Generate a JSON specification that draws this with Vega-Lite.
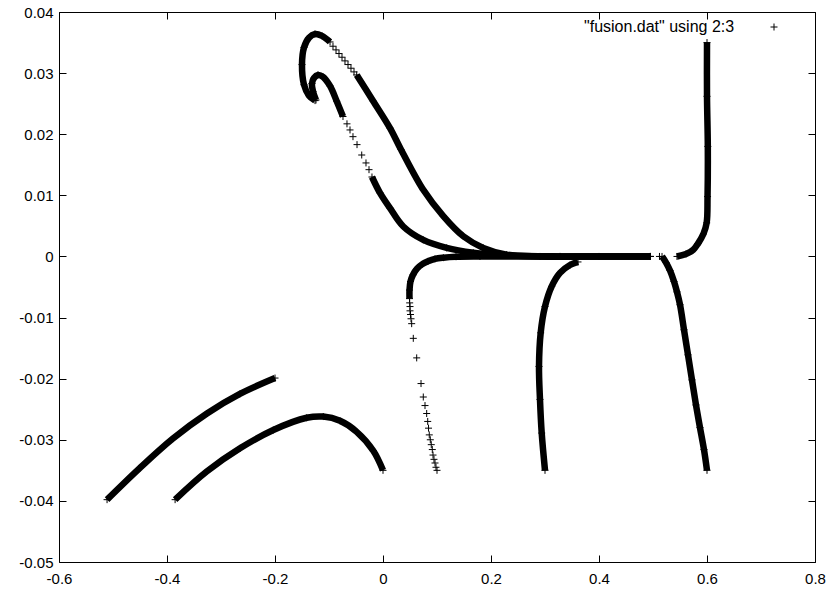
{
  "$schema": "https://vega.github.io/schema/vega-lite/v6.json",
  "width": 756,
  "height": 550,
  "autosize": "none",
  "padding": {"left": 59, "top": 12, "right": 16, "bottom": 28},
  "background": "white",
  "config": {
    "view": {"stroke": "black", "strokeWidth": 1},
    "axis": {
      "labelFont": "Liberation Sans",
      "labelFontSize": 15,
      "labelColor": "black",
      "tickColor": "black",
      "tickSize": -7,
      "tickWidth": 1,
      "domain": false,
      "grid": false,
      "title": null,
      "labelFlush": false,
      "labelOverlap": false,
      "labelBound": false
    }
  },
  "data": {
    "values": [
      {"t": "a", "x": -0.511, "y": -0.0398},
      {"t": "a", "x": -0.45, "y": -0.0346},
      {"t": "a", "x": -0.389, "y": -0.0298},
      {"t": "a", "x": -0.326, "y": -0.0257},
      {"t": "a", "x": -0.265, "y": -0.0225},
      {"t": "a", "x": -0.2, "y": -0.0199},

      {"t": "b", "x": -0.385, "y": -0.0398},
      {"t": "b", "x": -0.3265, "y": -0.0352},
      {"t": "b", "x": -0.2648, "y": -0.0314},
      {"t": "b", "x": -0.2031, "y": -0.0284},
      {"t": "b", "x": -0.1413, "y": -0.0264},
      {"t": "b", "x": -0.1106, "y": -0.0262},
      {"t": "b", "x": -0.0796, "y": -0.0269},
      {"t": "b", "x": -0.0487, "y": -0.0287},
      {"t": "b", "x": -0.018, "y": -0.0318},
      {"t": "b", "x": 0.0, "y": -0.035},

      {"t": "c1", "x": -0.1259, "y": 0.0255},
      {"t": "c1", "x": -0.137, "y": 0.0263},
      {"t": "c1", "x": -0.1463, "y": 0.0281},
      {"t": "c1", "x": -0.15, "y": 0.0314},
      {"t": "c1", "x": -0.1463, "y": 0.0342},
      {"t": "c1", "x": -0.137, "y": 0.0358},
      {"t": "c1", "x": -0.1259, "y": 0.0364},
      {"t": "c1", "x": -0.113, "y": 0.0361},
      {"t": "c1", "x": -0.0981, "y": 0.0351},
      {"t": "c2", "x": -0.0926, "y": 0.0344},
      {"t": "c2", "x": -0.087, "y": 0.0338},
      {"t": "c2", "x": -0.0815, "y": 0.0332},
      {"t": "c2", "x": -0.0759, "y": 0.0326},
      {"t": "c2", "x": -0.0704, "y": 0.032},
      {"t": "c2", "x": -0.0648, "y": 0.0314},
      {"t": "c2", "x": -0.0593, "y": 0.0308},
      {"t": "c2", "x": -0.0537, "y": 0.0302},
      {"t": "c3", "x": -0.0487, "y": 0.0297},
      {"t": "c3", "x": -0.018, "y": 0.0254},
      {"t": "c3", "x": 0.013, "y": 0.021},
      {"t": "c3", "x": 0.0333, "y": 0.0175},
      {"t": "c3", "x": 0.0746, "y": 0.0109},
      {"t": "c3", "x": 0.1117, "y": 0.0066},
      {"t": "c3", "x": 0.1487, "y": 0.0033},
      {"t": "c3", "x": 0.1857, "y": 0.0014},
      {"t": "c3", "x": 0.229, "y": 0.0003},
      {"t": "c3", "x": 0.2907, "y": 0.0},
      {"t": "c3", "x": 0.4, "y": 0.0},
      {"t": "c3", "x": 0.495, "y": 0.0},

      {"t": "d1", "x": -0.1241, "y": 0.0256},
      {"t": "d1", "x": -0.1296, "y": 0.027},
      {"t": "d1", "x": -0.1315, "y": 0.0283},
      {"t": "d1", "x": -0.1278, "y": 0.0292},
      {"t": "d1", "x": -0.1204, "y": 0.0297},
      {"t": "d1", "x": -0.1111, "y": 0.0294},
      {"t": "d1", "x": -0.0981, "y": 0.0279},
      {"t": "d1", "x": -0.0857, "y": 0.0254},
      {"t": "d1", "x": -0.0741, "y": 0.0229},
      {"t": "d2", "x": -0.0667, "y": 0.0217},
      {"t": "d2", "x": -0.0611, "y": 0.0207},
      {"t": "d2", "x": -0.0556, "y": 0.0196},
      {"t": "d2", "x": -0.0481, "y": 0.0183},
      {"t": "d2", "x": -0.0394, "y": 0.0166},
      {"t": "d2", "x": -0.0315, "y": 0.0153},
      {"t": "d2", "x": -0.0259, "y": 0.0142},
      {"t": "d3", "x": -0.0204, "y": 0.013},
      {"t": "d3", "x": -0.0056, "y": 0.0104},
      {"t": "d3", "x": 0.013, "y": 0.0079},
      {"t": "d3", "x": 0.0376, "y": 0.0049},
      {"t": "d3", "x": 0.0746, "y": 0.0027},
      {"t": "d3", "x": 0.1179, "y": 0.0014},
      {"t": "d3", "x": 0.1672, "y": 0.0006},
      {"t": "d3", "x": 0.2167, "y": 0.0002},
      {"t": "d3", "x": 0.3278, "y": 0.0},
      {"t": "d3", "x": 0.495, "y": 0.0},

      {"t": "e1", "x": 0.1, "y": -0.035},
      {"t": "e1", "x": 0.0981, "y": -0.0345},
      {"t": "e1", "x": 0.0963, "y": -0.0338},
      {"t": "e1", "x": 0.0944, "y": -0.0332},
      {"t": "e1", "x": 0.0926, "y": -0.0325},
      {"t": "e1", "x": 0.0913, "y": -0.0316},
      {"t": "e1", "x": 0.0894, "y": -0.0308},
      {"t": "e1", "x": 0.0876, "y": -0.03},
      {"t": "e1", "x": 0.0857, "y": -0.0292},
      {"t": "e1", "x": 0.0843, "y": -0.0281},
      {"t": "e1", "x": 0.0828, "y": -0.027},
      {"t": "e1", "x": 0.0809, "y": -0.0257},
      {"t": "e1", "x": 0.0778, "y": -0.0244},
      {"t": "e1", "x": 0.0746, "y": -0.023},
      {"t": "e1", "x": 0.0704, "y": -0.0208},
      {"t": "e1", "x": 0.0624, "y": -0.0166},
      {"t": "e1", "x": 0.0561, "y": -0.0134},
      {"t": "e1", "x": 0.0531, "y": -0.011},
      {"t": "e1", "x": 0.0519, "y": -0.0102},
      {"t": "e1", "x": 0.0509, "y": -0.0095},
      {"t": "e1", "x": 0.05, "y": -0.0089},
      {"t": "e1", "x": 0.05, "y": -0.0082},
      {"t": "e1", "x": 0.0494, "y": -0.0076},
      {"t": "e2", "x": 0.0491, "y": -0.0069},
      {"t": "e2", "x": 0.0491, "y": -0.0055},
      {"t": "e2", "x": 0.0509, "y": -0.0041},
      {"t": "e2", "x": 0.0556, "y": -0.003},
      {"t": "e2", "x": 0.063, "y": -0.002},
      {"t": "e2", "x": 0.0722, "y": -0.0013},
      {"t": "e2", "x": 0.0833, "y": -0.0008},
      {"t": "e2", "x": 0.0963, "y": -0.0004},
      {"t": "e2", "x": 0.1117, "y": -0.0002},
      {"t": "e2", "x": 0.1352, "y": -0.00005},
      {"t": "e2", "x": 0.1796, "y": 0.0},
      {"t": "e2", "x": 0.3278, "y": 0.0},
      {"t": "e2", "x": 0.495, "y": 0.0},

      {"t": "f", "x": 0.3, "y": -0.035},
      {"t": "f", "x": 0.2939, "y": -0.0289},
      {"t": "f", "x": 0.2907, "y": -0.0234},
      {"t": "f", "x": 0.2889, "y": -0.018},
      {"t": "f", "x": 0.292, "y": -0.0125},
      {"t": "f", "x": 0.3, "y": -0.0082},
      {"t": "f", "x": 0.3124, "y": -0.0049},
      {"t": "f", "x": 0.3278, "y": -0.0027},
      {"t": "f", "x": 0.3463, "y": -0.0014},
      {"t": "f", "x": 0.3611, "y": -0.0009},

      {"t": "g", "x": 0.5167, "y": 0.0},
      {"t": "g", "x": 0.5241, "y": -0.001},
      {"t": "g", "x": 0.5315, "y": -0.0023},
      {"t": "g", "x": 0.5389, "y": -0.0041},
      {"t": "g", "x": 0.5444, "y": -0.0058},
      {"t": "g", "x": 0.55, "y": -0.0079},
      {"t": "g", "x": 0.5574, "y": -0.012},
      {"t": "g", "x": 0.5648, "y": -0.0161},
      {"t": "g", "x": 0.5722, "y": -0.0202},
      {"t": "g", "x": 0.5796, "y": -0.0243},
      {"t": "g", "x": 0.587, "y": -0.028},
      {"t": "g", "x": 0.5944, "y": -0.0316},
      {"t": "g", "x": 0.6, "y": -0.035},

      {"t": "h", "x": 0.6, "y": 0.035},
      {"t": "h", "x": 0.6, "y": 0.0262},
      {"t": "h", "x": 0.6015, "y": 0.018},
      {"t": "h", "x": 0.601, "y": 0.0098},
      {"t": "h", "x": 0.5994, "y": 0.0055},
      {"t": "h", "x": 0.5935, "y": 0.0037},
      {"t": "h", "x": 0.5833, "y": 0.0021},
      {"t": "h", "x": 0.5746, "y": 0.0011},
      {"t": "h", "x": 0.5611, "y": 0.0004},
      {"t": "h", "x": 0.5444, "y": 0.0},

      {"t": "tail", "x": 0.512, "y": 0.0}
    ]
  },
  "layer": [
    {
      "transform": [{"filter": "indexof(['c2', 'd2', 'e1', 'tail'], datum.t) < 0"}],
      "mark": {"type": "line", "color": "black", "strokeWidth": 6.5, "strokeCap": "butt", "interpolate": "catmull-rom"},
      "encoding": {
        "x": {
          "field": "x", "type": "quantitative",
          "scale": {"domain": [-0.6, 0.8], "nice": false, "zero": false},
          "axis": {"orient": "bottom", "values": [-0.6, -0.4, -0.2, 0, 0.2, 0.4, 0.6, 0.8], "labelExpr": "'' + datum.value", "labelPadding": 16}
        },
        "y": {
          "field": "y", "type": "quantitative",
          "scale": {"domain": [-0.05, 0.04], "nice": false, "zero": false},
          "axis": {"orient": "left", "values": [-0.05, -0.04, -0.03, -0.02, -0.01, 0, 0.01, 0.02, 0.03, 0.04], "labelExpr": "'' + datum.value", "labelPadding": 13}
        },
        "detail": {"field": "t"},
        "order": {"value": null}
      }
    },
    {
      "mark": {"type": "point", "filled": false, "stroke": "black", "strokeWidth": 1, "size": 49, "opacity": 1},
      "encoding": {
        "x": {
          "field": "x", "type": "quantitative",
          "scale": {"domain": [-0.6, 0.8], "nice": false, "zero": false},
          "axis": {"orient": "top", "values": [-0.6, -0.4, -0.2, 0, 0.2, 0.4, 0.6, 0.8], "labels": false}
        },
        "y": {
          "field": "y", "type": "quantitative",
          "scale": {"domain": [-0.05, 0.04], "nice": false, "zero": false},
          "axis": {"orient": "right", "values": [-0.05, -0.04, -0.03, -0.02, -0.01, 0, 0.01, 0.02, 0.03, 0.04], "labels": false}
        },
        "shape": {
          "datum": "\"fusion.dat\" using 2:3",
          "scale": {"range": ["M-1,0H1M0,-1V1"]},
          "legend": {
            "orient": "none",
            "legendX": 525,
            "legendY": 10,
            "title": "\"fusion.dat\" using 2:3",
            "titleOrient": "left",
            "titleFont": "Liberation Sans",
            "titleFontSize": 16,
            "titleFontWeight": "normal",
            "titleColor": "black",
            "titlePadding": 34,
            "labelExpr": "''",
            "padding": 0,
            "symbolSize": 49,
            "symbolStrokeColor": "black",
            "symbolStrokeWidth": 1,
            "symbolFillColor": "transparent"
          }
        }
      }
    }
  ],
  "resolve": {"axis": {"x": "independent", "y": "independent"}}
}
